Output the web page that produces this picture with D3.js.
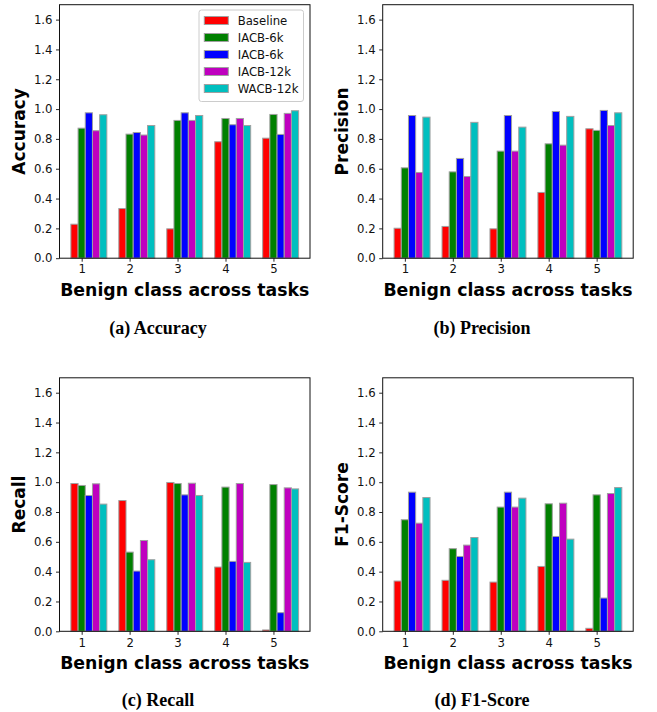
<!DOCTYPE html>
<html lang="en">
<head>
<meta charset="UTF-8">
<title>Benign class across tasks</title>
<script src="https://d3js.org/d3.v7.min.js"></script>
<style>
body {
  margin: 0;
  background: white;
}
.tick text {
  font-family: "DejaVu Sans", sans-serif;
  font-size: 11.7px;
  fill: #111;
}
</style>
</head>
<body>
<div id="chart"></div>

<script>
// data
var tasks = [1, 2, 3, 4, 5];
var seriesNames = ["Baseline", "IACB-6k", "IACB-6k", "IACB-12k", "WACB-12k"];
var seriesColors = ["#ff0000", "#008000", "#0000ff", "#bf00bf", "#00bfbf"];
var yTicks = [0, 0.2, 0.4, 0.6, 0.8, 1.0, 1.2, 1.4, 1.6];

// one row per series, one value per task
var accuracy = [
  [0.228, 0.333, 0.197, 0.781, 0.805],
  [0.872, 0.832, 0.924, 0.937, 0.964],
  [0.975, 0.843, 0.975, 0.895, 0.830],
  [0.855, 0.826, 0.924, 0.937, 0.971],
  [0.962, 0.890, 0.957, 0.890, 0.989]
];
var precision = [
  [0.201, 0.213, 0.197, 0.441, 0.868],
  [0.606, 0.579, 0.718, 0.767, 0.857],
  [0.957, 0.669, 0.957, 0.984, 0.991],
  [0.575, 0.548, 0.718, 0.758, 0.890],
  [0.946, 0.911, 0.879, 0.951, 0.975]
];
var recall = [
  [0.991, 0.877, 0.998, 0.431, 0.009],
  [0.978, 0.531, 0.991, 0.967, 0.984],
  [0.911, 0.404, 0.915, 0.469, 0.125],
  [0.989, 0.609, 0.993, 0.991, 0.962],
  [0.853, 0.480, 0.911, 0.462, 0.955]
];
var f1score = [
  [0.337, 0.342, 0.330, 0.435, 0.020],
  [0.748, 0.554, 0.833, 0.855, 0.915],
  [0.933, 0.502, 0.933, 0.636, 0.223],
  [0.725, 0.578, 0.833, 0.859, 0.924],
  [0.897, 0.629, 0.893, 0.618, 0.964]
];

var barWidth = 0.15;

var svg = d3.select("#chart")
  .append("svg")
    .attr("width", 657)
    .attr("height", 712);

svg.append("rect")
  .attr("width", 657)
  .attr("height", 712)
  .attr("fill", "white");

var panels = [
  {values: accuracy,  ylabel: "Accuracy",  caption: "(a) Accuracy",  left: 59.5,  top: 4.7,   legend: true,  capX: 158, capY: 334},
  {values: precision, ylabel: "Precision", caption: "(b) Precision", left: 382.7, top: 4.7,   legend: false, capX: 482, capY: 334},
  {values: recall,    ylabel: "Recall",    caption: "(c) Recall",    left: 59.5,  top: 377.8, legend: false, capX: 158, capY: 706},
  {values: f1score,   ylabel: "F1-Score",  caption: "(d) F1-Score",  left: 382.7, top: 377.8, legend: false, capX: 482, capY: 706}
];

var pw = 250.5, ph = 253.5;

panels.forEach(function(p) {
  var g = svg.append("g")
    .attr("transform", "translate(" + p.left + "," + p.top + ")");

  // matplotlib style 5% margins around the bars
  var x = d3.scaleLinear()
    .domain([0.5375, 5.7625])
    .range([0, pw]);
  var y = d3.scaleLinear()
    .domain([0, 1.7])
    .range([ph, 0]);

  // bars
  p.values.forEach(function(row, si) {
    g.append("g")
      .selectAll("rect")
      .data(row)
      .enter()
      .append("rect")
        .attr("x", function(d, i) { return x(tasks[i] + (si - 1) * barWidth - barWidth / 2); })
        .attr("width", x(barWidth) - x(0))
        .attr("y", function(d) { return y(d); })
        .attr("height", function(d) { return y(0) - y(d); })
        .style("fill", seriesColors[si])
        .style("stroke", "#a0a0a0")
        .style("stroke-width", 1);
  });

  // axes
  g.append("g")
    .attr("transform", "translate(0," + ph + ")")
    .call(d3.axisBottom(x).tickValues(tasks).tickFormat(d3.format("d")).tickSize(3.5).tickPadding(3.5))
    .call(function(a) { a.select(".domain").remove(); });
  g.append("g")
    .call(d3.axisLeft(y).tickValues(yTicks).tickFormat(d3.format(".1f")).tickSize(3.5).tickPadding(3.5))
    .call(function(a) { a.select(".domain").remove(); });
  g.selectAll(".tick line").attr("stroke", "#111").attr("stroke-width", 0.9);

  // frame
  g.append("rect")
    .attr("width", pw)
    .attr("height", ph)
    .attr("fill", "none")
    .attr("stroke", "#111")
    .attr("stroke-width", 1);

  // axis labels
  g.append("text")
    .attr("transform", "translate(-34.5," + (ph / 2) + ") rotate(-90)")
    .style("text-anchor", "middle")
    .style("font-family", "DejaVu Sans, sans-serif")
    .style("font-weight", "bold")
    .style("font-size", "17px")
    .text(p.ylabel);
  g.append("text")
    .attr("x", pw / 2)
    .attr("y", ph + 37.5)
    .style("text-anchor", "middle")
    .style("font-family", "DejaVu Sans, sans-serif")
    .style("font-weight", "bold")
    .style("font-size", "17.3px")
    .text("Benign class across tasks");

  // caption under the panel
  svg.append("text")
    .attr("x", p.capX)
    .attr("y", p.capY)
    .style("text-anchor", "middle")
    .style("font-family", "Liberation Serif, Times New Roman, serif")
    .style("font-weight", "bold")
    .style("font-size", "18px")
    .text(p.caption);

  if (p.legend) {
    var lg = g.append("g")
      .attr("transform", "translate(" + (199 - p.left) + "," + (10 - p.top) + ")");
    lg.append("rect")
      .attr("width", 104.5)
      .attr("height", 91.5)
      .attr("rx", 2.5)
      .attr("fill", "white")
      .attr("fill-opacity", 0.8)
      .attr("stroke", "#cccccc")
      .attr("stroke-width", 1);
    seriesNames.forEach(function(name, i) {
      lg.append("rect")
        .attr("x", 5.3)
        .attr("y", 6.5 + i * 17)
        .attr("width", 24)
        .attr("height", 8)
        .style("fill", seriesColors[i])
        .style("stroke", "#a0a0a0")
        .style("stroke-width", 1);
      lg.append("text")
        .attr("x", 38.7)
        .attr("y", 14.8 + i * 17)
        .style("font-family", "DejaVu Sans, sans-serif")
        .style("font-size", "11.7px")
        .style("fill", "#111")
        .text(name);
    });
  }
});
</script>
</body>
</html>
